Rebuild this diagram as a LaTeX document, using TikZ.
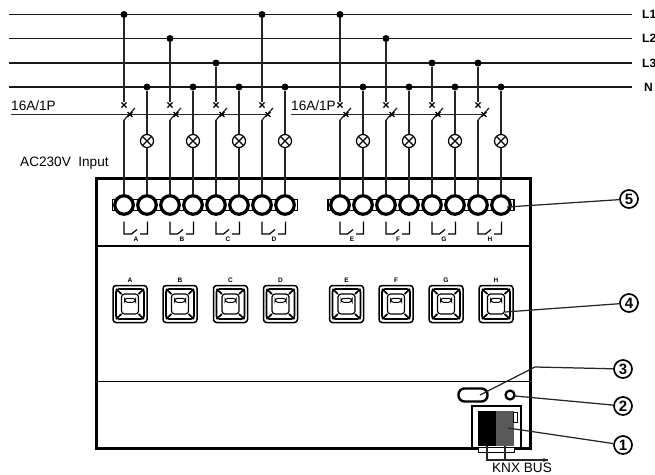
\documentclass[tikz,border=0pt]{standalone}
\usepackage{fontspec}
\setmainfont{Liberation Sans}
\usetikzlibrary{shapes.misc,arrows.meta}

\tikzset{dotnode/.style={circle, fill=black, inner sep=0pt, minimum size=7pt}}
\tikzset{crossnode/.style={cross out, draw, line width=1.2pt, inner sep=0pt, minimum size=4pt}}
\tikzset{knifenode/.style={cross out, draw, line width=1.3pt, inner sep=0pt, minimum size=3.5pt}}
\tikzset{lampnode/.style={circle, draw, line width=1.2pt, fill=white, inner sep=0pt, minimum size=13pt,
	path picture={\draw[line width=1.2pt] (path picture bounding box.north west) -- (path picture bounding box.south east);
		\draw[line width=1.2pt] (path picture bounding box.north east) -- (path picture bounding box.south west);}}}
\tikzset{termnode/.style={circle, draw, line width=3.2pt, fill=white, inner sep=0pt, minimum size=18.5pt}}
\tikzset{stripnode/.style={rectangle, draw, line width=1.8pt, inner sep=0pt, minimum height=11pt}}
\tikzset{contactnode/.style={inner sep=0pt, minimum width=28pt, minimum height=16pt,
	path picture={\draw[line width=1.2pt, shift={(path picture bounding box.center)}]
		(-11.5,-6.5) -- (-11.5,6) -- (-4,6) -- (1.5,1.5) (4.5,6) -- (12,6) -- (12,-6.5);}}}
\tikzset{buttonnode/.style={rectangle, draw, rounded corners=3pt, line width=1.5pt, inner sep=0pt, minimum width=34pt, minimum height=37pt,
	path picture={\begin{scope}[shift={(path picture bounding box.center)}]
		\draw[line width=1.7pt] (-14,-15) rectangle (14,15);
		\draw[line width=1.2pt] (-8.5,-10) rectangle (8.5,10);
		\draw[line width=1.7pt] (-14,-15) -- (-8.5,-10) (14,-15) -- (8.5,-10) (-14,15) -- (-8.5,10) (14,15) -- (8.5,10);
		\draw[line width=1pt] (-5.5,-5.7) rectangle (5.5,-1.7);
		\end{scope}}}}
\tikzset{callnode/.style={circle, draw, line width=1.7pt, inner sep=0pt, minimum size=18pt, font=\fontsize{15}{15}\selectfont\bfseries}}
\tikzset{textnode/.style={inner sep=0pt, font=\fontsize{13.6}{14}\selectfont}}
\tikzset{phasenode/.style={inner sep=0pt, anchor=west, font=\fontsize{12}{12}\selectfont\bfseries}}
\tikzset{letternode/.style={inner sep=0pt, font=\fontsize{6.5}{6.5}\selectfont\bfseries}}
\tikzset{wire/.style={line width=1.25pt, draw=black!85}}
\tikzset{busline/.style={line width=1.5pt, draw=black!90}}

\begin{document}
\begin{tikzpicture}[x=1pt, y=-1pt]
		\useasboundingbox (0,0) rectangle (655,474);

		%bus lines
		\coordinate (L1a) at (9,14.5);
		\coordinate (L1b) at (632,14.5);
		\coordinate (L2a) at (9,38.5);
		\coordinate (L2b) at (632,38.5);
		\coordinate (L3a) at (9,63);
		\coordinate (L3b) at (632,63);
		\coordinate (Na) at (9,87);
		\coordinate (Nb) at (632,87);
		\path[busline] (L1a) edge (L1b);
		\path[busline] (L2a) edge (L2b);
		\path[busline] (L3a) edge (L3b);
		\path[busline] (Na) edge (Nb);
		\node[phasenode] (L1) at (642,14.5) {L1};
		\node[phasenode] (L2) at (642,38.5) {L2};
		\node[phasenode] (L3) at (642,63) {L3};
		\node[phasenode] (N) at (644,87) {N};

		%housing
		\node[rectangle, draw, line width=3pt, inner sep=0pt, minimum width=434pt, minimum height=270pt] (box) at (313,313) {};
		\coordinate (div1a) at (96,246);
		\coordinate (div1b) at (530,246);
		\coordinate (div2a) at (96,381.5);
		\coordinate (div2b) at (530,381.5);
		\path[line width=1.6pt, draw] (div1a) edge (div1b);
		\path[line width=1.6pt, draw] (div2a) edge (div2b);

		%terminals
		\node[stripnode, minimum width=185pt] (stripl) at (205,205) {};
		\node[stripnode, minimum width=186pt] (stripr) at (421,205) {};
		\node[termnode] (ta) at (124,205) {};
		\node[termnode] (ta2) at (147,205) {};
		\node[termnode] (tb) at (170,205) {};
		\node[termnode] (tb2) at (193,205) {};
		\node[termnode] (tc) at (216,205) {};
		\node[termnode] (tc2) at (239,205) {};
		\node[termnode] (td) at (262,205) {};
		\node[termnode] (td2) at (285,205) {};
		\node[termnode] (te) at (340,205) {};
		\node[termnode] (te2) at (363,205) {};
		\node[termnode] (tf) at (386,205) {};
		\node[termnode] (tf2) at (409,205) {};
		\node[termnode] (tg) at (432,205) {};
		\node[termnode] (tg2) at (455,205) {};
		\node[termnode] (th) at (478,205) {};
		\node[termnode] (th2) at (501,205) {};

		%junctions
		\node[dotnode] (da) at (124,14.5) {};
		\node[dotnode] (db) at (170,38.5) {};
		\node[dotnode] (dc) at (216,63) {};
		\node[dotnode] (dd) at (262,14.5) {};
		\node[dotnode] (de) at (340,14.5) {};
		\node[dotnode] (df) at (386,38.5) {};
		\node[dotnode] (dg) at (432,63) {};
		\node[dotnode] (dh) at (478,63) {};
		\node[dotnode] (na) at (147,87) {};
		\node[dotnode] (nb) at (193,87) {};
		\node[dotnode] (nc) at (239,87) {};
		\node[dotnode] (nd) at (285,87) {};
		\node[dotnode] (ne) at (363,87) {};
		\node[dotnode] (nf) at (409,87) {};
		\node[dotnode] (ng) at (455,87) {};
		\node[dotnode] (nh) at (501,87) {};

		%breakers
		\node[crossnode] (xa) at (124,105) {};
		\node[crossnode] (xb) at (170,105) {};
		\node[crossnode] (xc) at (216,105) {};
		\node[crossnode] (xd) at (262,105) {};
		\node[crossnode] (xe) at (340,105) {};
		\node[crossnode] (xf) at (386,105) {};
		\node[crossnode] (xg) at (432,105) {};
		\node[crossnode] (xh) at (478,105) {};
		\path[wire] (da) edge (xa);
		\path[wire] (db) edge (xb);
		\path[wire] (dc) edge (xc);
		\path[wire] (dd) edge (xd);
		\path[wire] (de) edge (xe);
		\path[wire] (df) edge (xf);
		\path[wire] (dg) edge (xg);
		\path[wire] (dh) edge (xh);

		\coordinate (sa) at (124,120);
		\coordinate (sb) at (170,120);
		\coordinate (sc) at (216,120);
		\coordinate (sd) at (262,120);
		\coordinate (se) at (340,120);
		\coordinate (sf) at (386,120);
		\coordinate (sg) at (432,120);
		\coordinate (sh) at (478,120);
		\coordinate (ba) at (135,108);
		\coordinate (bb) at (181,108);
		\coordinate (bc) at (227,108);
		\coordinate (bd) at (273,108);
		\coordinate (be) at (351,108);
		\coordinate (bf) at (397,108);
		\coordinate (bg) at (443,108);
		\coordinate (bh) at (489,108);
		\path[wire] (sa) edge (ta);
		\path[wire] (sb) edge (tb);
		\path[wire] (sc) edge (tc);
		\path[wire] (sd) edge (td);
		\path[wire] (se) edge (te);
		\path[wire] (sf) edge (tf);
		\path[wire] (sg) edge (tg);
		\path[wire] (sh) edge (th);
		\path[wire] (sa) edge (ba);
		\path[wire] (sb) edge (bb);
		\path[wire] (sc) edge (bc);
		\path[wire] (sd) edge (bd);
		\path[wire] (se) edge (be);
		\path[wire] (sf) edge (bf);
		\path[wire] (sg) edge (bg);
		\path[wire] (sh) edge (bh);

		\coordinate (ratea) at (11,114.5);
		\coordinate (rateb) at (268,114.5);
		\coordinate (ratec) at (291,114.5);
		\coordinate (rated) at (484,114.5);
		\path[wire] (ratea) edge (rateb);
		\path[wire] (ratec) edge (rated);
		\node[knifenode] (ka) at (130,114.5) {};
		\node[knifenode] (kb) at (176,114.5) {};
		\node[knifenode] (kc) at (222,114.5) {};
		\node[knifenode] (kd) at (268,114.5) {};
		\node[knifenode] (ke) at (346,114.5) {};
		\node[knifenode] (kf) at (392,114.5) {};
		\node[knifenode] (kg) at (438,114.5) {};
		\node[knifenode] (kh) at (484,114.5) {};

		%lamps
		\node[lampnode] (la) at (147,141) {};
		\node[lampnode] (lb) at (193,141) {};
		\node[lampnode] (lc) at (239,141) {};
		\node[lampnode] (ld) at (285,141) {};
		\node[lampnode] (le) at (363,141) {};
		\node[lampnode] (lf) at (409,141) {};
		\node[lampnode] (lg) at (455,141) {};
		\node[lampnode] (lh) at (501,141) {};
		\path[wire] (na) edge (la);
		\path[wire] (nb) edge (lb);
		\path[wire] (nc) edge (lc);
		\path[wire] (nd) edge (ld);
		\path[wire] (ne) edge (le);
		\path[wire] (nf) edge (lf);
		\path[wire] (ng) edge (lg);
		\path[wire] (nh) edge (lh);
		\path[wire] (la) edge (ta2);
		\path[wire] (lb) edge (tb2);
		\path[wire] (lc) edge (tc2);
		\path[wire] (ld) edge (td2);
		\path[wire] (le) edge (te2);
		\path[wire] (lf) edge (tf2);
		\path[wire] (lg) edge (tg2);
		\path[wire] (lh) edge (th2);

		%contacts
		\node[contactnode] (ca) at (135.5,228) {};
		\node[contactnode] (cb) at (181.5,228) {};
		\node[contactnode] (cc) at (227.5,228) {};
		\node[contactnode] (cd) at (273.5,228) {};
		\node[contactnode] (ce) at (351.5,228) {};
		\node[contactnode] (cf) at (397.5,228) {};
		\node[contactnode] (cg) at (443.5,228) {};
		\node[contactnode] (ch) at (489.5,228) {};
		\node[letternode] (cla) at (136,239) {A};
		\node[letternode] (clb) at (182,239) {B};
		\node[letternode] (clc) at (228,239) {C};
		\node[letternode] (cld) at (274,239) {D};
		\node[letternode] (cle) at (352,239) {E};
		\node[letternode] (clf) at (398,239) {F};
		\node[letternode] (clg) at (444,239) {G};
		\node[letternode] (clh) at (490,239) {H};

		%buttons
		\node[buttonnode] (pa) at (130,304) {};
		\node[buttonnode] (pb) at (180,304) {};
		\node[buttonnode] (pc) at (230.5,304) {};
		\node[buttonnode] (pd) at (280.5,304) {};
		\node[buttonnode] (pe) at (346.5,304) {};
		\node[buttonnode] (pf) at (396,304) {};
		\node[buttonnode] (pg) at (446,304) {};
		\node[buttonnode] (ph) at (496,304) {};
		\node[letternode] (pla) at (130,280.5) {A};
		\node[letternode] (plb) at (180,280.5) {B};
		\node[letternode] (plc) at (230.5,280.5) {C};
		\node[letternode] (pld) at (280.5,280.5) {D};
		\node[letternode] (ple) at (346.5,280.5) {E};
		\node[letternode] (plf) at (396,280.5) {F};
		\node[letternode] (plg) at (446,280.5) {G};
		\node[letternode] (plh) at (496,280.5) {H};

		%bus connector
		\node[rectangle, draw, line width=1.2pt, fill=white, inner sep=0pt, minimum width=49pt, minimum height=42pt] (conn) at (496.5,427) {};
		\node[rectangle, draw, line width=1pt, fill=white, inner sep=0pt, minimum width=36pt, minimum height=5pt] (lip) at (496,449.5) {};
		\node[rectangle, fill=black, inner sep=0pt, minimum width=18pt, minimum height=35pt] (blackpart) at (487,428) {};
		\node[rectangle, fill=black!65, inner sep=0pt, minimum width=18pt, minimum height=35pt] (greypart) at (505,428) {};
		\node[rectangle, draw, fill=white, line width=.8pt, inner sep=0pt, minimum width=4pt, minimum height=10pt] (tab) at (515,417) {};
		\node[rectangle, draw, rounded corners=6pt, line width=2.4pt, inner sep=0pt, minimum width=29pt, minimum height=13pt] (prog) at (473,395) {};
		\node[circle, draw, line width=2.2pt, inner sep=0pt, minimum size=9pt] (led) at (510,395) {};
		\coordinate (busend) at (548,460);
		\draw[wire, -{Stealth[length=5pt, width=4pt]}] (blackpart.south) |- (busend);
		\draw[wire] (greypart.south) |- (busend);
		\node[textnode] (knx) at (522,467.5) {KNX BUS};

		%callouts
		\node[callnode] (c5) at (629,199) {5};
		\node[callnode] (c4) at (629,303) {4};
		\node[callnode] (c3) at (623,369) {3};
		\node[callnode] (c2) at (623,406) {2};
		\node[callnode] (c1) at (623,445) {1};
		\coordinate (p5) at (507,207);
		\coordinate (p4) at (505,312);
		\coordinate (p3) at (480,395);
		\coordinate (p3b) at (535,367);
		\coordinate (p2) at (515,396);
		\coordinate (p1) at (508,428);
		\path[wire] (p5) edge (c5);
		\path[wire] (p4) edge (c4);
		\draw[wire] (p3) -- (p3b) -- (c3);
		\path[wire] (p2) edge (c2);
		\path[wire] (p1) edge (c1);

		%texts
		\node[textnode, anchor=west] (ratel) at (11,106) {16A/1P};
		\node[textnode, anchor=west] (rater) at (291,106) {16A/1P};
		\node[textnode, anchor=west] (input) at (20,163) {AC230V\ \ Input};

\end{tikzpicture}
\end{document}
